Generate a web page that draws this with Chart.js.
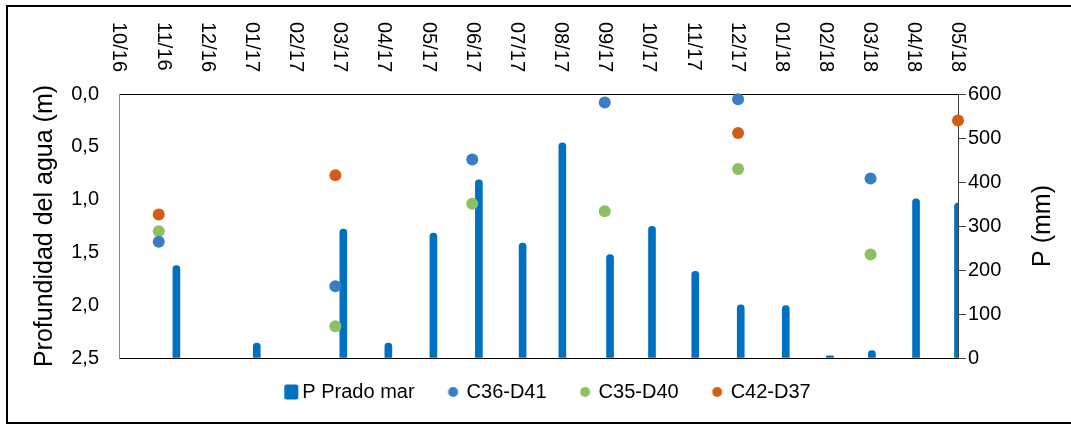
<!DOCTYPE html>
<html>
<head>
<meta charset="utf-8">
<script src="https://cdn.jsdelivr.net/npm/chart.js@4.4.1/dist/chart.umd.min.js"></script>
<style>
  html, body { margin: 0; padding: 0; background: #fff; }
  #wrap { width: 1071px; height: 425px; position: relative; }
</style>
</head>
<body>
<div id="wrap"><canvas id="chart"></canvas></div>
<script>
// month ticks along the top (index 0 = 10/16)
const monthLabels = ['10/16', '11/16', '12/16', '01/17', '02/17', '03/17', '04/17', '05/17', '06/17', '07/17',
    '08/17', '09/17', '10/17', '11/17', '12/17', '01/18', '02/18', '03/18', '04/18', '05/18']

// precipitation P Prado mar (mm), x in months from 10/16
const rainX = [1.3, 3.12, 5.08, 6.1, 7.12, 8.15, 9.14, 10.04, 11.12, 12.07, 13.05, 14.08, 15.1, 16.1, 17.05, 18.05, 19.0]
const rainMm = [210, 34, 293, 34, 284, 405, 261, 489, 235, 299, 197, 121, 119, 5, 17, 362, 352]

// water depth (m)
const wellX = [0.9, 4.9, 8.0, 11.0, 14.02, 17.02]
const c36d41 = [1.40, 1.82, 0.62, 0.08, 0.05, 0.80]
const c35d40 = [1.30, 2.20, 1.04, 1.11, 0.71, 1.52]
const c42X = [0.9, 4.9, 14.02, 19.0]
const c42d37 = [1.14, 0.77, 0.37, 0.25]

const depthTicks = [0, 0.5, 1, 1.5, 2, 2.5]
const rainTicks = [0, 100, 200, 300, 400, 500, 600]

const FONT = '"Liberation Sans", Arial, sans-serif'
const PLOT = { left: 119, right: 958, top: 94, bottom: 358 }

const toPoints = (xs, ys) => xs.map((x, i) => ({ x: x, y: ys[i] }))

// legend icons: drawn toward the right of a wide transparent box,
// which gives the wider spacing between legend entries
const makeIcon = (color, shape) => {
    const cv = document.createElement('canvas')
    cv.width = 64
    cv.height = 20
    const c = cv.getContext('2d')
    c.fillStyle = color
    c.beginPath()
    if (shape === 'square') {
        c.roundRect(40, 2.5, 14, 15, 2)
    } else {
        c.arc(44.5, 10, 5, 0, Math.PI * 2)
    }
    c.fill()
    return cv
}

const extras = {
    id: 'extras',
    beforeDraw(chart) {
        const { ctx } = chart
        ctx.save()
        ctx.fillStyle = '#fff'
        ctx.fillRect(0, 0, chart.width, chart.height)
        ctx.restore()
    },
    afterDraw(chart) {
        const { ctx, scales } = chart
        ctx.save()
        // month labels, rotated clockwise
        ctx.font = '20px ' + FONT
        ctx.fillStyle = '#000'
        ctx.textAlign = 'left'
        ctx.textBaseline = 'middle'
        monthLabels.forEach((lab, i) => {
            ctx.save()
            ctx.translate(scales.x.getPixelForValue(i), 22)
            ctx.rotate(Math.PI / 2)
            ctx.fillText(lab, 0, 0)
            ctx.restore()
        })
        // right axis title
        ctx.font = '25px ' + FONT
        ctx.textAlign = 'center'
        ctx.save()
        ctx.translate(1043, (scales.yP.top + scales.yP.bottom) / 2)
        ctx.rotate(-Math.PI / 2)
        ctx.fillText('P (mm)', 0, 0)
        ctx.restore()
        // outer frame
        ctx.strokeStyle = '#000'
        ctx.lineWidth = 2
        ctx.strokeRect(7, 6, 1100, 417)
        ctx.restore()
    }
}

new Chart(document.getElementById('chart'), {
    type: 'bar',
    data: {
        datasets: [
            {
                type: 'bar',
                label: 'P Prado mar',
                data: toPoints(rainX, rainMm),
                xAxisID: 'x',
                yAxisID: 'yP',
                backgroundColor: '#0070C0',
                barThickness: 7,
                borderRadius: { topLeft: 3.5, topRight: 3.5 },
                borderSkipped: 'start',
                order: 2
            },
            {
                type: 'scatter',
                label: 'C36-D41',
                data: toPoints(wellX, c36d41),
                xAxisID: 'x',
                yAxisID: 'yD',
                backgroundColor: '#3A7DC6',
                pointRadius: 6,
                pointBorderWidth: 0,
                clip: false,
                order: 1
            },
            {
                type: 'scatter',
                label: 'C35-D40',
                data: toPoints(wellX, c35d40),
                xAxisID: 'x',
                yAxisID: 'yD',
                backgroundColor: '#8CC063',
                pointRadius: 6,
                pointBorderWidth: 0,
                clip: false,
                order: 1
            },
            {
                type: 'scatter',
                label: 'C42-D37',
                data: toPoints(c42X, c42d37),
                xAxisID: 'x',
                yAxisID: 'yD',
                backgroundColor: '#D25E16',
                pointRadius: 6,
                pointBorderWidth: 0,
                clip: false,
                order: 1
            }
        ]
    },
    options: {
        responsive: true,
        maintainAspectRatio: false,
        animation: false,
        layout: { padding: { left: 0, right: 0, top: 0, bottom: 13 } },
        scales: {
            x: {
                type: 'linear',
                position: 'top',
                min: 0,
                max: monthLabels.length - 1,
                offset: false,
                ticks: { display: false },
                grid: { display: false },
                border: { display: true, color: '#000', width: 1 },
                afterFit: (s) => { s.height = PLOT.top }
            },
            xb: {
                type: 'linear',
                position: 'bottom',
                min: 0,
                max: monthLabels.length - 1,
                offset: false,
                ticks: { display: false },
                grid: { display: false },
                border: { display: true, color: '#000', width: 1 },
                afterFit: (s) => { s.height = 14 }
            },
            yD: {
                type: 'linear',
                position: 'left',
                reverse: true,
                min: depthTicks[0],
                max: depthTicks[depthTicks.length - 1],
                afterBuildTicks: (s) => { s.ticks = depthTicks.map((v) => ({ value: v })) },
                ticks: {
                    color: '#000',
                    font: { family: FONT, size: 20 },
                    padding: 20,
                    callback: (v) => v.toFixed(1).replace('.', ',')
                },
                grid: { display: false, drawTicks: false },
                border: { display: true, color: '#868686', width: 1 },
                title: {
                    display: true,
                    text: 'Profundidad del agua (m)',
                    color: '#000',
                    font: { family: FONT, size: 25 },
                    padding: { top: 30, bottom: 0 }
                },
                afterFit: (s) => { s.width = PLOT.left }
            },
            yP: {
                type: 'linear',
                position: 'right',
                min: rainTicks[0],
                max: rainTicks[rainTicks.length - 1],
                afterBuildTicks: (s) => { s.ticks = rainTicks.map((v) => ({ value: v })) },
                ticks: {
                    color: '#000',
                    font: { family: FONT, size: 20 },
                    padding: 2
                },
                grid: { display: true, drawOnChartArea: false, drawTicks: true, tickLength: 8, color: '#404040' },
                border: { display: true, color: '#404040', width: 1 },
                afterFit: (s) => { s.width = 1071 - PLOT.right }
            }
        },
        plugins: {
            legend: {
                position: 'bottom',
                labels: {
                    color: '#000',
                    font: { family: FONT, size: 20 },
                    usePointStyle: true,
                    pointStyleWidth: 32,
                    boxHeight: 7,
                    padding: 10,
                    generateLabels: (chart) => chart.data.datasets.map((ds, i) => ({
                        text: ds.label,
                        fillStyle: ds.backgroundColor,
                        strokeStyle: ds.backgroundColor,
                        lineWidth: 0,
                        pointStyle: makeIcon(ds.backgroundColor, i === 0 ? 'square' : 'circle'),
                        hidden: false,
                        datasetIndex: i,
                        fontColor: '#000'
                    }))
                }
            },
            tooltip: { enabled: false }
        }
    },
    plugins: [extras]
})
</script>
</body>
</html>
